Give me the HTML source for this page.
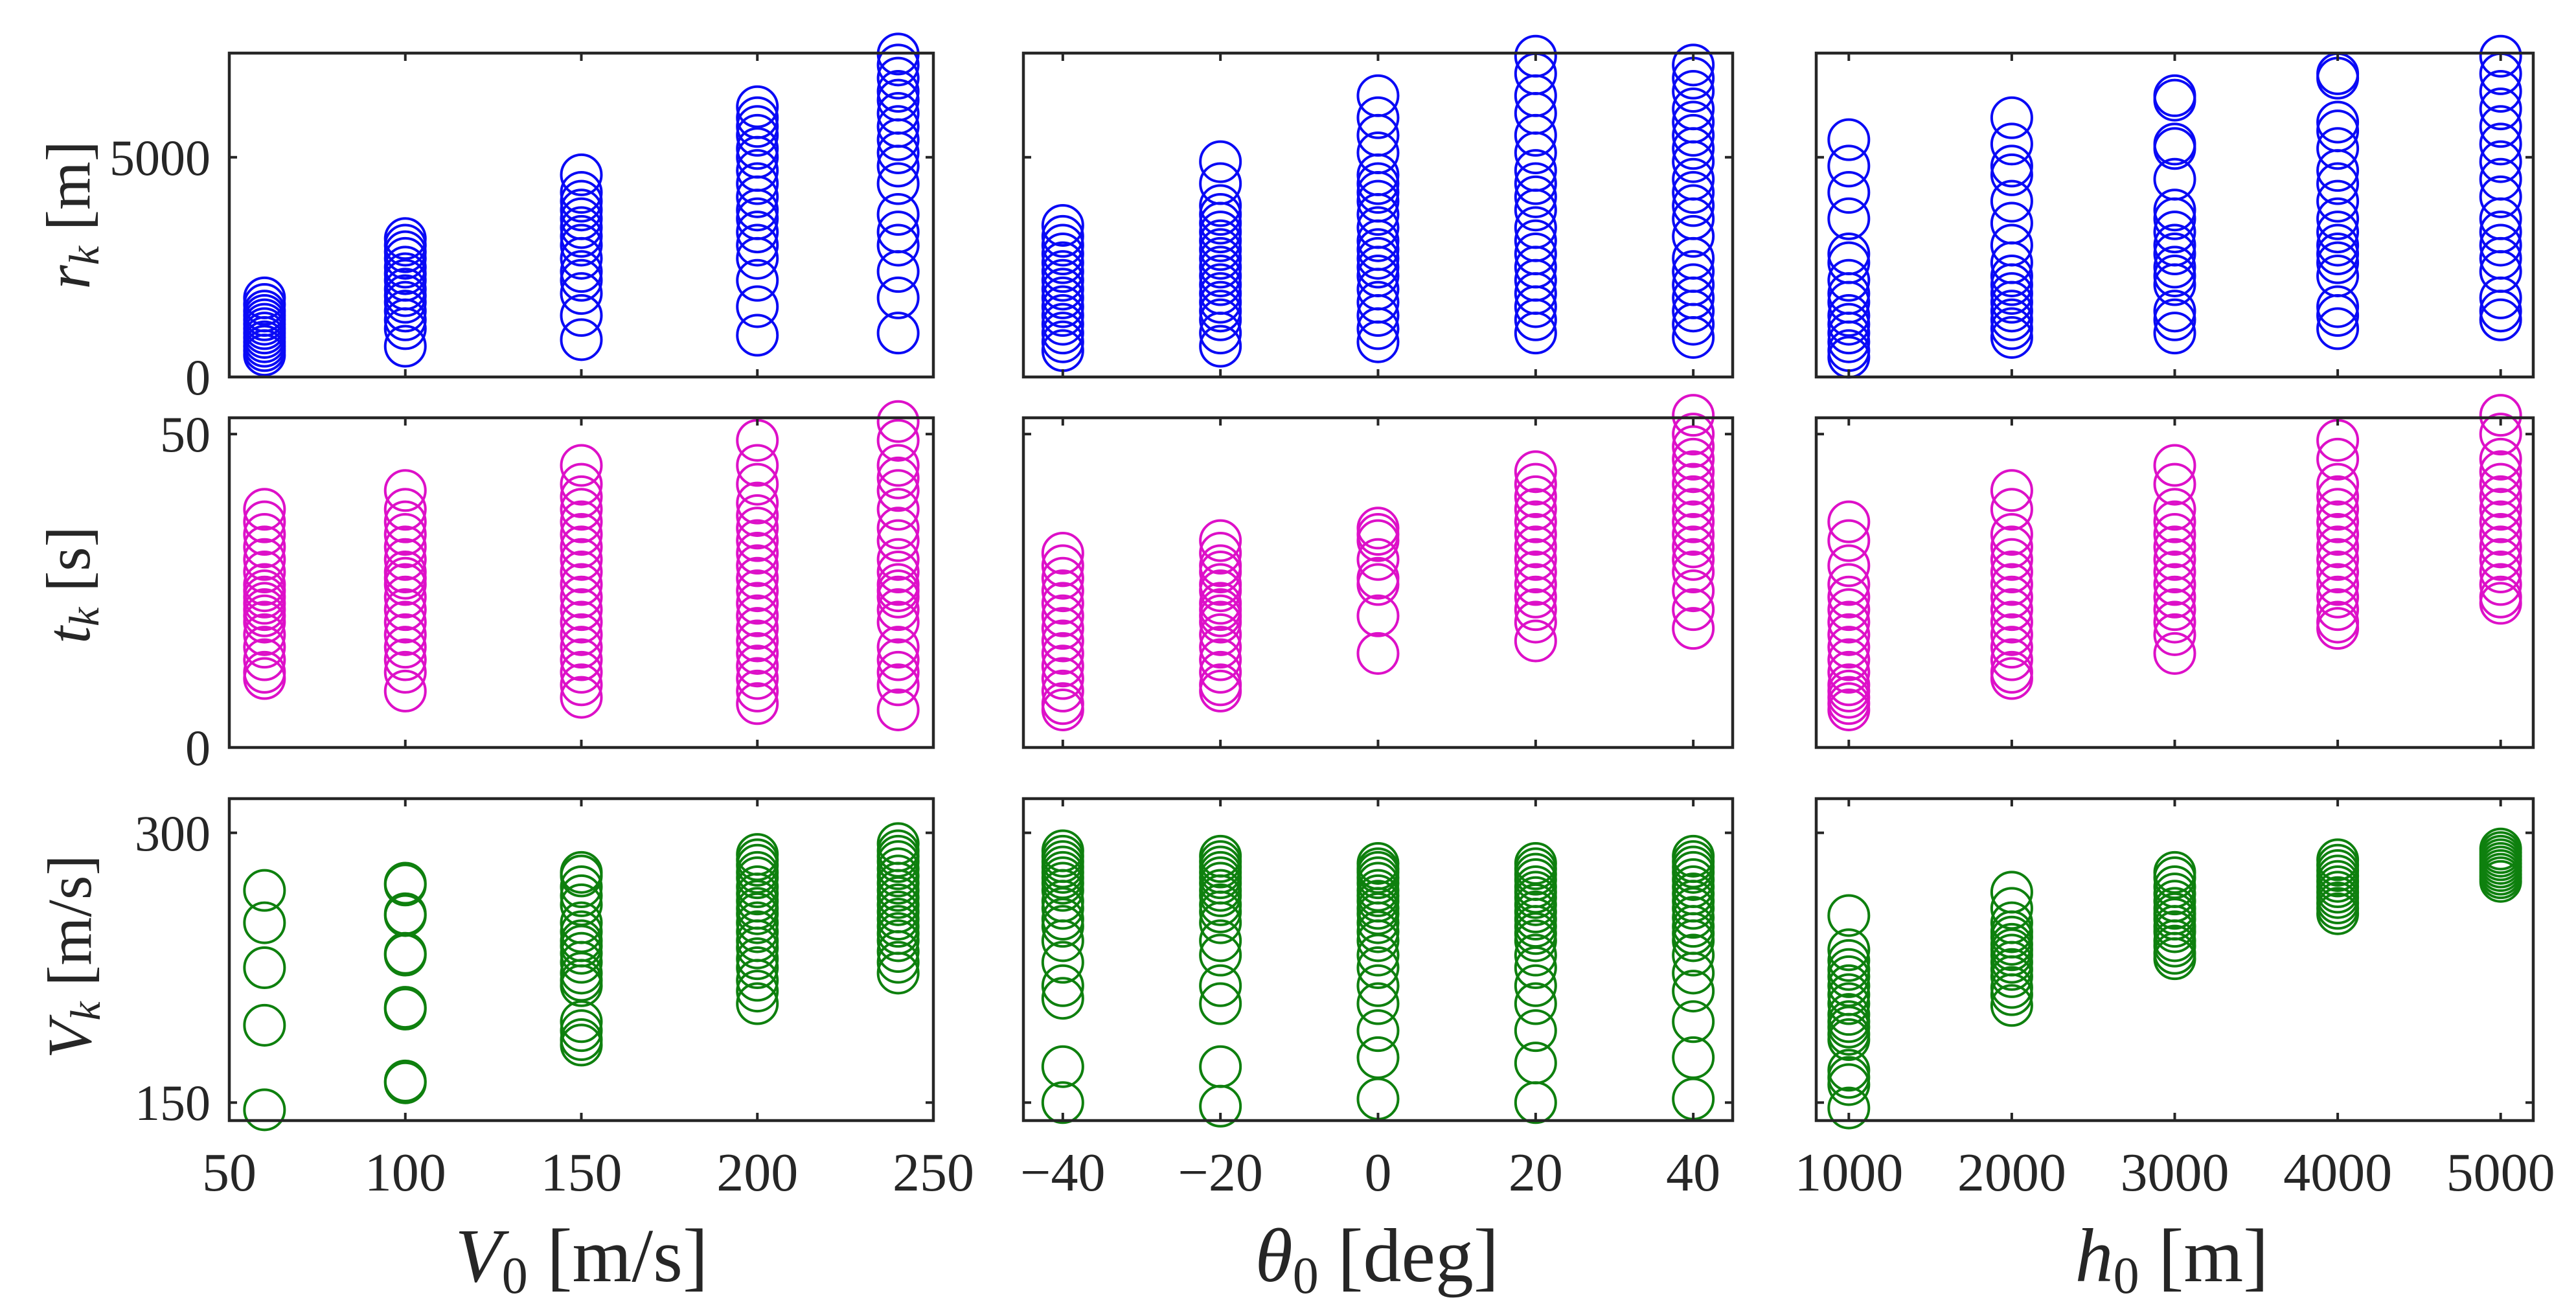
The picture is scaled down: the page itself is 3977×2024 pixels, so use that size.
<!DOCTYPE html>
<html><head><meta charset="utf-8">
<style>
html,body{margin:0;padding:0;background:#fff;}
svg{display:block;}
text{font-family:"Liberation Serif",serif;fill:#262626;}
</style></head>
<body>
<svg id="fig" width="3977" height="2024" viewBox="0 0 3977 2024" xmlns="http://www.w3.org/2000/svg"></svg>
<script>
// ---- Data ----
const v0Cats = [60, 100, 150, 200, 240];
const thCats = [-40, -20, 0, 20, 40];
const h0Cats = [1000, 2000, 3000, 4000, 5000];

const rkV0 = [
 [1800,1650,1500,1400,1300,1200,1100,1000,900,800,700,600,500],
 [3150,3000,2850,2700,2500,2350,2200,2000,1850,1700,1500,1300,1100,700],
 [4600,4200,4000,3800,3600,3400,3200,3000,2700,2400,2200,1900,1400,850],
 [6150,5900,5700,5500,5200,5000,4700,4400,4100,3800,3600,3300,3000,2700,2200,1600,950],
 [7350,7100,6800,6500,6300,6000,5700,5400,5100,4800,4400,3700,3300,3000,2400,1800,1000]
];
const rkTh = [
 [3450,3200,3000,2800,2600,2400,2200,2000,1800,1600,1400,1200,1000,800,600],
 [4900,4400,3900,3700,3500,3300,3100,2900,2700,2500,2300,2100,1900,1700,1500,1300,1000,700],
 [6400,5900,5500,5100,4600,4400,4200,4000,3700,3400,3100,2900,2700,2500,2300,2000,1700,1400,1100,800],
 [7300,6900,6400,6000,5500,5100,4700,4400,4100,3800,3400,3100,2800,2500,2200,1900,1600,1300,1000],
 [7100,6800,6500,6100,5800,5500,5200,4900,4500,4200,3900,3600,3200,2700,2400,2100,1800,1500,1200,900]
];
const rkH0 = [
 [5400,4800,4200,3600,2800,2600,2200,1900,1700,1400,1200,1000,800,600,450],
 [5900,5300,4800,4600,4000,3500,3000,2600,2300,2100,1900,1700,1500,1300,1100,900],
 [6400,6300,5300,5200,4500,3800,3600,3300,3000,2800,2500,2300,2100,1500,1300,1000],
 [6900,6800,5800,5600,5200,4700,4400,4000,3600,3300,3000,2800,2600,2300,1600,1400,1100],
 [7300,6900,6500,6100,5700,5300,4900,4500,4100,3600,3300,3000,2700,2400,1800,1500,1300]
];
const tkV0 = [
 [38,36,34,32,30,28,26,25,24,23,22,21,20,18,16,14,12,11],
 [41,38,36,34,32,30,28,27,26,24,22,20,18,16,14,12,9],
 [45,42,40,38,36,34,32,30,28,26,24,22,20,18,16,14,12,10,8],
 [49,45,42,39,37,35,33,31,29,27,25,23,21,19,17,15,13,11,9,7],
 [52,49,45,43,41,38,35,33,30,28,26,25,24,22,20,16,14,12,10,6]
];
const tkTh = [
 [31,29,27,25,23,21,19,17,15,13,11,9,7,6],
 [33,31,29,28,26,25,23,22,21,20,18,16,14,12,10,9],
 [35,34,33,30,27,26,21,15],
 [44,42,40,38,36,34,32,30,28,26,24,22,20,17],
 [53,50,48,46,44,42,40,38,36,34,32,30,28,25,22,19]
];
const tkH0 = [
 [36,33,29,26,24,22,20,18,16,14,12,10,9,8,7,6],
 [41,38,34,32,30,28,26,24,22,20,18,16,14,12,11],
 [45,42,38,36,34,32,30,28,26,24,22,20,18,15],
 [49,46,42,40,38,36,34,32,30,28,26,24,22,20,19],
 [53,50,46,44,42,40,38,36,34,32,30,28,26,24,23]
];
const vkV0 = [
 [268,250,225,193,146],
 [272,271,255,254,233,232,203,202,162,161],
 [278,276,270,265,260,250,245,240,237,233,228,222,218,215,195,190,185,182],
 [288,285,282,278,275,270,266,262,258,255,250,245,240,236,230,225,218,212,205],
 [294,290,287,284,280,276,272,268,264,260,256,252,248,244,240,234,228,222]
];
const vkTh = [
 [290,287,284,281,278,275,272,268,262,258,252,248,240,228,215,208,170,150],
 [287,284,281,278,275,272,268,265,260,256,250,240,232,215,205,170,148],
 [283,280,278,275,272,268,265,262,258,255,250,245,240,232,225,215,205,190,175,152],
 [283,280,277,274,270,267,264,260,256,252,248,244,240,232,225,215,205,190,172,150],
 [287,284,281,278,274,270,266,262,258,253,248,244,240,232,222,212,195,175,152]
];
const vkH0 = [
 [254,235,229,224,220,215,210,205,199,195,192,188,185,168,164,160,147],
 [267,258,250,245,242,238,235,232,228,224,220,214,210,204],
 [278,275,270,266,262,258,255,252,248,245,240,237,233,230],
 [285,282,279,276,273,270,267,264,261,258,255],
 [291,289,287,285,283,281,279,277,275,273]
];
const xTicksV0 = [50,100,150,200,250];
const xTicksTh = [-40,-20,0,20,40];
const xTicksH0 = [1000,2000,3000,4000,5000];
const xTickLabelsTh = ["\u221240","\u221220","0","20","40"];
const yTicksR = [0,5000];
const yTicksT = [0,50];
const yTicksV = [150,300];

// ---- Layout ----
const NS = "http://www.w3.org/2000/svg";
const svg = document.getElementById('fig');
const cols = [
 {x0:354, x1:1441, lim:[50,250], ticks:xTicksV0, labels:xTicksV0.map(String), cats:v0Cats, name:'v0'},
 {x0:1580, x1:2675, lim:[-45,45], ticks:xTicksTh, labels:xTickLabelsTh, cats:thCats, name:'theta0'},
 {x0:2804, x1:3911, lim:[800,5200], ticks:xTicksH0, labels:xTicksH0.map(String), cats:h0Cats, name:'h0'}
];
const rows = [
 {y0:82, y1:582, lim:[0,7370], ticks:yTicksR, color:'#0a0af5', data:[rkV0,rkTh,rkH0], name:'rk'},
 {y0:645, y1:1154, lim:[0,52.6], ticks:yTicksT, color:'#dd10c8', data:[tkV0,tkTh,tkH0], name:'tk'},
 {y0:1233, y1:1730, lim:[140,319], ticks:yTicksV, color:'#0e800e', data:[vkV0,vkTh,vkH0], name:'vk'}
];
function mk(tag, attrs, parent){
  const e = document.createElementNS(NS, tag);
  for (const k in attrs) e.setAttribute(k, attrs[k]);
  (parent||svg).appendChild(e);
  return e;
}
const AX = '#262626';
rows.forEach((row, ri) => {
  cols.forEach((col, ci) => {
    const sx = v => col.x0 + (v - col.lim[0]) / (col.lim[1]-col.lim[0]) * (col.x1-col.x0);
    const sy = v => row.y1 - (v - row.lim[0]) / (row.lim[1]-row.lim[0]) * (row.y1-row.y0);
    const g = mk('g', {});
    
    
    const series = row.data[ci];
    series.forEach((vals, k) => {
      vals.forEach(v => {
        const c = mk('circle', {cx: sx(col.cats[k]), cy: sy(v), r: 31, fill:'none', stroke: row.color, 'stroke-width': 4}, g);
        
        
      });
    });
    const fr = mk('rect', {x: col.x0, y: row.y0, width: col.x1-col.x0, height: row.y1-row.y0, fill:'none', stroke: AX, 'stroke-width': 4.5}, g);
    
    
    col.ticks.forEach((t, i) => {
      const x = sx(t);
      mk('line', {x1:x, x2:x, y1:row.y1, y2:row.y1-12, stroke:AX, 'stroke-width':4}, g);
      mk('line', {x1:x, x2:x, y1:row.y0, y2:row.y0+12, stroke:AX, 'stroke-width':4}, g);
      if (ri === 2) {
        const tx = mk('text', {x: x, y: 1838, 'font-size': 84, 'text-anchor':'middle'});
        tx.textContent = col.labels[i];
        
        
      }
    });
    row.ticks.forEach(t => {
      const y = sy(t);
      mk('line', {x1:col.x0, x2:col.x0+12, y1:y, y2:y, stroke:AX, 'stroke-width':4}, g);
      mk('line', {x1:col.x1, x2:col.x1-12, y1:y, y2:y, stroke:AX, 'stroke-width':4}, g);
      if (ci === 0) {
        const ty = mk('text', {x: 325, y: y + 27, 'font-size': 78, 'text-anchor':'end'});
        ty.textContent = String(t);
        
        
      }
    });
  });
});
</script>
<svg style="position:absolute;left:0;top:0" width="3977" height="2024" xmlns="http://www.w3.org/2000/svg">
  <text x="898" y="1978" font-size="118" text-anchor="middle"><tspan font-style="italic">V</tspan><tspan font-size="80" dy="18">0</tspan><tspan dy="-18"> [m/s]</tspan></text>
  <text x="2126" y="1978" font-size="118" text-anchor="middle"><tspan font-style="italic">θ</tspan><tspan font-size="80" dy="18">0</tspan><tspan dy="-18"> [deg]</tspan></text>
  <text x="3353" y="1978" font-size="118" text-anchor="middle"><tspan font-style="italic">h</tspan><tspan font-size="80" dy="18">0</tspan><tspan dy="-18"> [m]</tspan></text>
  <text transform="translate(138,332) rotate(-90)" font-size="96" text-anchor="middle"><tspan font-style="italic">r</tspan><tspan font-size="66" font-style="italic" dy="14">k</tspan><tspan dy="-14"> [m]</tspan></text>
  <text transform="translate(138,903) rotate(-90)" font-size="96" text-anchor="middle"><tspan font-style="italic">t</tspan><tspan font-size="66" font-style="italic" dy="14">k</tspan><tspan dy="-14"> [s]</tspan></text>
  <text transform="translate(140,1477) rotate(-90)" font-size="96" text-anchor="middle"><tspan font-style="italic">V</tspan><tspan font-size="66" font-style="italic" dy="14">k</tspan><tspan dy="-14"> [m/s]</tspan></text>
</svg>
</body></html>
